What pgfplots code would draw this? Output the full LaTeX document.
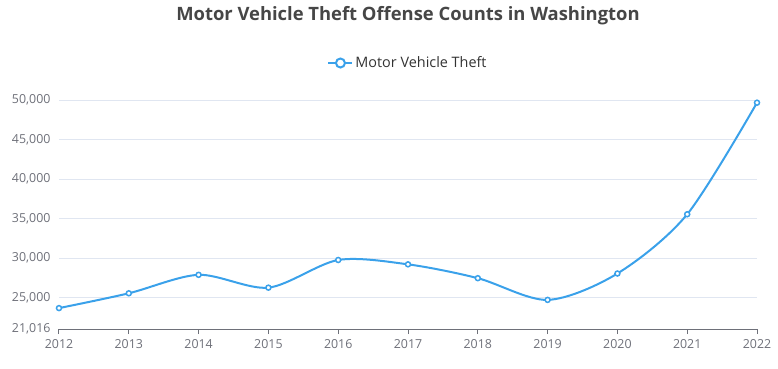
\documentclass[border=0pt]{standalone}
\usepackage{pgfplots}
\pgfplotsset{compat=1.18}
\usepackage{fontspec}
\setmainfont{Open Sans}
\definecolor{linec}{RGB}{58,161,234}
\definecolor{gridc}{RGB}{224,230,241}
\definecolor{axc}{RGB}{110,112,121}
\definecolor{titlec}{RGB}{70,70,70}
\definecolor{legc}{RGB}{51,51,51}
\begin{document}
\begin{tikzpicture}
\path[use as bounding box] (0pt,0pt) rectangle (778pt,368pt);
\begin{axis}[
  at={(59pt,39pt)}, anchor=south west,
  scale only axis, width=698pt, height=229pt,
  xmin=2012, xmax=2022, ymin=21016, ymax=50000,
  clip=false,
  axis x line=bottom, axis y line=left,
  axis line style={-, draw=axc, line width=1pt},
  y axis line style={draw=none},
  xtick={2012,2013,2014,2015,2016,2017,2018,2019,2020,2021,2022},
  xticklabels={2012,2013,2014,2015,2016,2017,2018,2019,2020,2021,2022},
  ytick={21016,25000,30000,35000,40000,45000,50000},
  scaled y ticks=false,
  tick align=outside,
  x tick style={draw=axc, line width=1pt},
  major tick length=5pt,
  y tick style={draw=none},
  ymajorgrids, grid style={draw=gridc, line width=0.8pt},
  /pgf/number format/assume math mode=true,
  yticklabel style={/pgf/number format/fixed, /pgf/number format/1000 sep={,}, /pgf/number format/precision=0, xshift=0pt},
  tick label style={font=\fontsize{12.4}{14}\selectfont, text=axc},
  xticklabel style={yshift=-2pt},
  title={\bfseries Motor Vehicle Theft Offense Counts in Washington},
  title style={at={(axis description cs:0.5,1)}, anchor=center, yshift=78pt, font=\fontsize{18.4}{22}\selectfont, text=titlec},
  legend style={at={(axis description cs:0.5,1)}, anchor=center, yshift=37pt, draw=none, fill=none, font=\fontsize{14.4}{17}\selectfont, text=legc},
  legend image code/.code={\draw[line width=2pt] (0pt,0pt) -- (24pt,0pt); \draw[line width=2pt, fill=white] (12pt,0pt) circle (4.5pt);},
]
\addplot[color=linec, line width=2pt, smooth, tension=0.5, mark=*, mark size=2.5pt, mark options={fill=white, draw=linec, line width=1.5pt}]
coordinates {
(2012,23662)(2013,25537)(2014,27875)(2015,26250)(2016,29750)(2017,29200)(2018,27450)(2019,24700)(2020,28040)(2021,35540)(2022,49660)
};
\addlegendentry{Motor Vehicle Theft}
\end{axis}
\end{tikzpicture}
\end{document}
